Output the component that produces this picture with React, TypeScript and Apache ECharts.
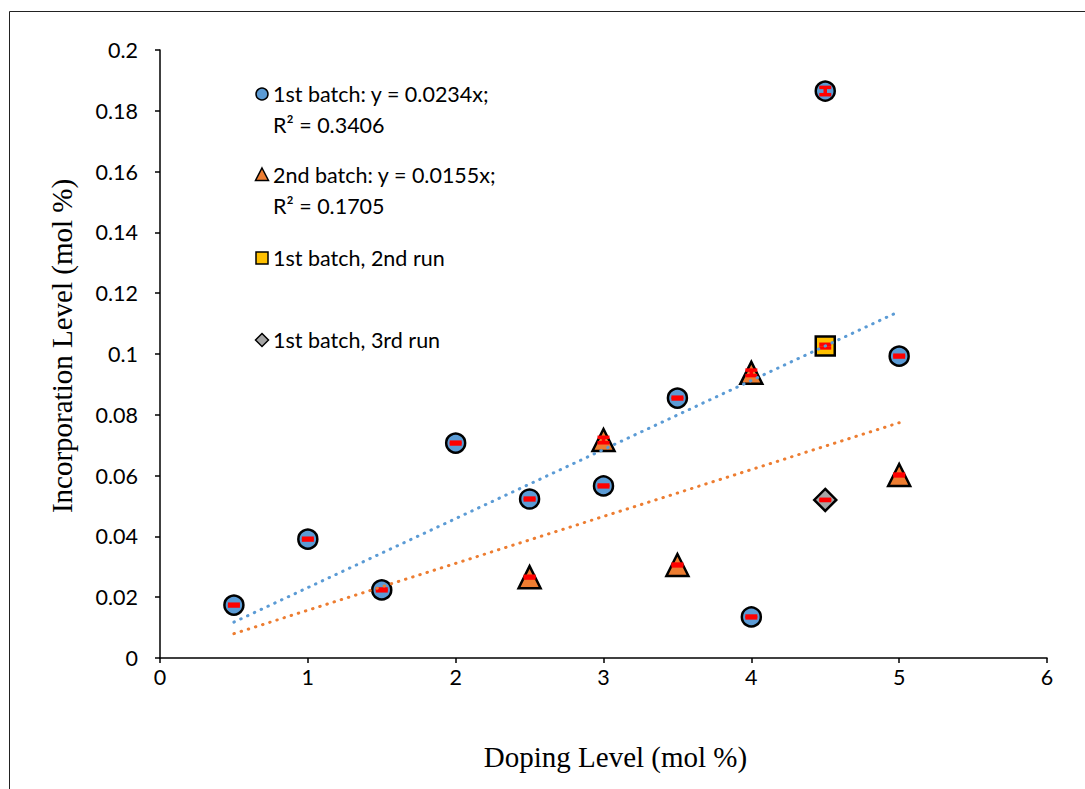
import React, { useEffect, useRef } from "react";
import * as echarts from "echarts";

const batch1X = [0.5, 1, 1.5, 2, 2.5, 3, 3.5, 4, 4.5, 5];
const batch1Y = [0.0174, 0.0391, 0.0224, 0.0707, 0.0523, 0.0566, 0.0855, 0.0135, 0.1865, 0.0993];
const batch1Err = [0.0003, 0.0003, 0.0003, 0.0003, 0.0003, 0.0003, 0.0003, 0.0003, 0.0012, 0.0003];

const batch2X = [2.5, 3, 3.5, 4, 5];
const batch2Y = [0.0266, 0.0717, 0.0306, 0.0938, 0.0602];
const batch2Err = [0.0003, 0.0009, 0.0003, 0.0009, 0.0003];

const run2X = [4.5];
const run2Y = [0.1026];
const run2Err = [0.0006];

const run3X = [4.5];
const run3Y = [0.052];
const run3Err = [0.0002];

const trend1 = [[0.5, 0.0118], [5, 0.1140]];
const trend2 = [[0.5, 0.0080], [5, 0.0774]];

const legendLines = [
  ["1st batch: y = 0.0234x;", "R² = 0.3406"],
  ["2nd batch: y = 0.0155x;", "R² = 0.1705"],
  ["1st batch, 2nd run"],
  ["1st batch, 3rd run"],
];

const xTitle = "Doping Level (mol %)";
const yTitle = "Incorporation Level (mol %)";

const LABEL_FONT = "Lato, 'Noto Sans', sans-serif";
const TITLE_FONT = "'Liberation Serif', 'DejaVu Serif', serif";

function zip(xs: number[], ys: number[]) {
  return xs.map((x, i) => [x, ys[i]]);
}

function errData(xs: number[], ys: number[], es: number[]) {
  return xs.map((x, i) => [x, ys[i] - es[i], ys[i] + es[i]]);
}

const errorRender = (params: any, api: any) => {
  const x = api.value(0);
  const lo = api.coord([x, api.value(1)]);
  const hi = api.coord([x, api.value(2)]);
  const hw = 6;
  const style = { stroke: "#FF0000", lineWidth: 3.5 };
  return {
    type: "group",
    children: [
      { type: "line", shape: { x1: lo[0], y1: lo[1], x2: hi[0], y2: hi[1] }, style },
      { type: "line", shape: { x1: lo[0] - hw, y1: lo[1], x2: lo[0] + hw, y2: lo[1] }, style },
      { type: "line", shape: { x1: hi[0] - hw, y1: hi[1], x2: hi[0] + hw, y2: hi[1] }, style },
    ],
  };
};

export default function App() {
  const ref = useRef<HTMLDivElement>(null);
  useEffect(() => {
    if (!ref.current) return;
    const chart = echarts.init(ref.current, null, { renderer: "svg" });

    const legendTops = [94, 175, 258, 340];
    const legendSymbols = [
      { type: "circle", shape: { cx: 262, cy: 94, r: 6 }, style: { fill: "#5B9BD5", stroke: "#000", lineWidth: 1.5 } },
      { type: "polygon", shape: { points: [[262, 168], [268.5, 180.5], [255.5, 180.5]] }, style: { fill: "#ED7D31", stroke: "#000", lineWidth: 1.5 } },
      { type: "rect", shape: { x: 256, y: 252, width: 12, height: 12 }, style: { fill: "#FFC000", stroke: "#000", lineWidth: 1.5 } },
      { type: "polygon", shape: { points: [[262, 333.5], [268.5, 340], [262, 346.5], [255.5, 340]] }, style: { fill: "#A5A5A5", stroke: "#000", lineWidth: 1.5 } },
    ];
    const legendTexts: any[] = [];
    legendLines.forEach((lines, i) => {
      lines.forEach((t, j) => {
        legendTexts.push({
          type: "text",
          x: 273,
          y: legendTops[i] + j * 31,
          style: { text: t, fontSize: 21.5, fontFamily: LABEL_FONT, fill: "#000", verticalAlign: "middle", align: "left" },
        });
      });
    });

    chart.setOption({
      animation: false,
      backgroundColor: "#fff",
      grid: { left: 160, top: 50, right: 38, bottom: 131, containLabel: false },
      xAxis: {
        type: "value",
        min: 0,
        max: 6,
        interval: 1,
        splitLine: { show: false },
        axisLine: { onZero: false, lineStyle: { color: "#000", width: 1.5 } },
        axisTick: { show: true, length: 5, lineStyle: { color: "#000", width: 1.5 } },
        axisLabel: { color: "#000", fontSize: 21.5, fontFamily: LABEL_FONT, margin: 8 },
        name: xTitle,
        nameLocation: "middle",
        nameGap: 84,
        nameTextStyle: { fontFamily: TITLE_FONT, fontSize: 29, color: "#000", padding: [0, 0, 0, 24] },
      },
      yAxis: {
        type: "value",
        min: 0,
        max: 0.2,
        interval: 0.02,
        splitLine: { show: false },
        axisLine: { show: true, onZero: false, lineStyle: { color: "#000", width: 1.5 } },
        axisTick: { show: true, length: 5, lineStyle: { color: "#000", width: 1.5 } },
        axisLabel: { color: "#000", fontSize: 21.5, fontFamily: LABEL_FONT, margin: 22 },
        name: yTitle,
        nameLocation: "middle",
        nameGap: 84,
        nameTextStyle: { fontFamily: TITLE_FONT, fontSize: 29, color: "#000", padding: [0, 0, 0, 16] },
      },
      series: [
        {
          type: "scatter",
          name: "1st batch",
          data: zip(batch1X, batch1Y),
          symbol: "circle",
          symbolSize: 19,
          itemStyle: { color: "#5B9BD5", borderColor: "#000", borderWidth: 2.5, opacity: 1 },
          z: 2,
        },
        {
          type: "scatter",
          name: "2nd batch",
          data: zip(batch2X, batch2Y),
          symbol: "triangle",
          symbolSize: 22,
          itemStyle: { color: "#ED7D31", borderColor: "#000", borderWidth: 2.5, opacity: 1 },
          z: 2,
        },
        {
          type: "scatter",
          name: "1st batch, 2nd run",
          data: zip(run2X, run2Y),
          symbol: "rect",
          symbolSize: 19,
          itemStyle: { color: "#FFC000", borderColor: "#000", borderWidth: 2.5, opacity: 1 },
          z: 2,
        },
        {
          type: "scatter",
          name: "1st batch, 3rd run",
          data: zip(run3X, run3Y),
          symbol: "diamond",
          symbolSize: 22,
          itemStyle: { color: "#A5A5A5", borderColor: "#000", borderWidth: 2.5, opacity: 1 },
          z: 2,
        },
        ...[
          errData(batch1X, batch1Y, batch1Err),
          errData(batch2X, batch2Y, batch2Err),
          errData(run2X, run2Y, run2Err),
          errData(run3X, run3Y, run3Err),
        ].map((d) => ({
          type: "custom",
          renderItem: errorRender,
          data: d,
          encode: { x: 0, y: [1, 2] },
          z: 3,
          silent: true,
        })),
        {
          type: "line",
          data: trend1,
          showSymbol: false,
          symbol: "none",
          lineStyle: { color: "#5B9BD5", width: 3, type: [0.5, 7], cap: "round" },
          z: 4,
          silent: true,
        },
        {
          type: "line",
          data: trend2,
          showSymbol: false,
          symbol: "none",
          lineStyle: { color: "#ED7D31", width: 3, type: [0.5, 7], cap: "round" },
          z: 4,
          silent: true,
        },
      ],
      graphic: [
        {
          type: "rect",
          shape: { x: 9.5, y: 11.5, width: 1200, height: 900 },
          style: { fill: "none", stroke: "#222", lineWidth: 1 },
          silent: true,
          z: 0,
        },
        ...legendSymbols,
        ...legendTexts,
      ],
    });

    return () => chart.dispose();
  }, []);

  return (
    <div
      ref={ref}
      style={{ position: "fixed", left: 0, top: 0, width: 1085, height: 789 }}
    />
  );
}
